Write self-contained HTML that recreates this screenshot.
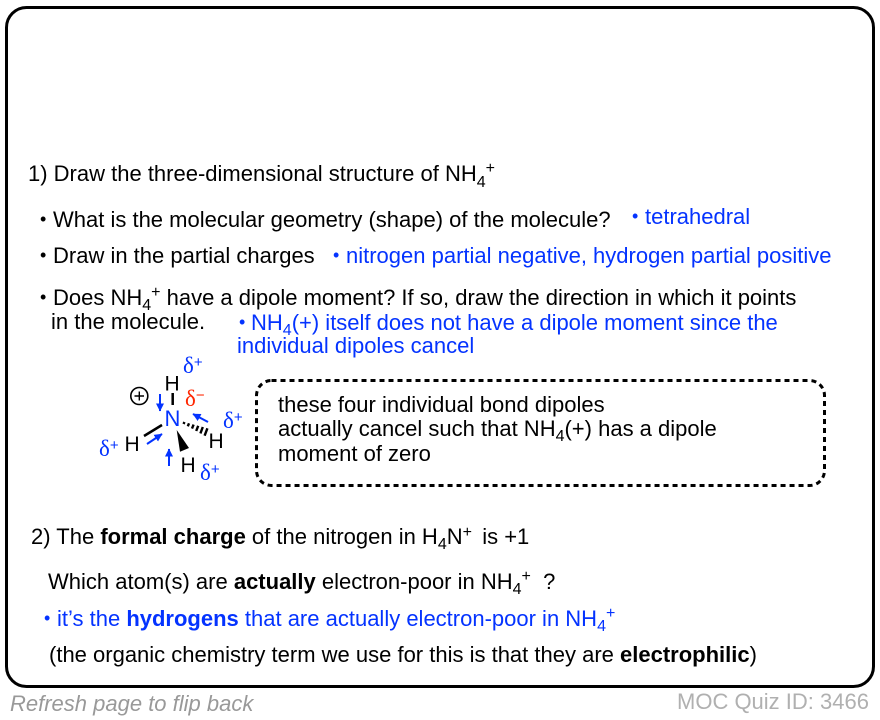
<!DOCTYPE html>
<html>
<head>
<meta charset="utf-8">
<style>
html,body{margin:0;padding:0;background:#fff;width:880px;height:720px;overflow:hidden}
svg{display:block}
text{font-family:"Liberation Sans",sans-serif;font-size:22px;fill:#000;white-space:pre}
.b{fill:#0433ff}
.s{font-size:16px}
.k{font-size:18px}
.d{font-family:"Liberation Serif",serif;font-size:23px;fill:#0433ff}
.p{font-family:"Liberation Sans",sans-serif;font-size:15px;fill:#0433ff}
.h{font-size:21px}
</style>
</head>
<body>
<svg width="880" height="720" viewBox="0 0 880 720" xmlns="http://www.w3.org/2000/svg">
<defs>
<marker id="ar" markerWidth="8" markerHeight="8" refX="7.5" refY="4" orient="auto" markerUnits="userSpaceOnUse"><path d="M0,0 L8,4 L0,8 Z" fill="#0433ff"/></marker>
</defs>
<rect x="6.5" y="7.5" width="867" height="679" rx="20" ry="20" fill="#fff" stroke="#000" stroke-width="3"/>

<text x="28" y="181">1) Draw the three-dimensional structure of NH<tspan class="s" dy="6">4</tspan><tspan class="s" dy="-14">+</tspan></text>

<text class="k" x="40" y="225">•</text>
<text x="53" y="227">What is the molecular geometry (shape) of the molecule?</text>
<text class="k b" x="632" y="222">•</text>
<text class="b" x="645" y="224">tetrahedral</text>

<text class="k" x="40" y="261">•</text>
<text x="53" y="263">Draw in the partial charges</text>
<text class="k b" x="333" y="261">•</text>
<text class="b" x="346" y="263">nitrogen partial negative, hydrogen partial positive</text>

<text class="k" x="40" y="303">•</text>
<text x="53" y="305">Does NH<tspan class="s" dy="5">4</tspan><tspan class="s" dy="-13">+</tspan><tspan dy="8"> have a dipole moment? If so, draw the direction in which it points</tspan></text>
<text x="51" y="329">in the molecule.</text>
<text class="k b" x="239" y="328">•</text>
<text class="b" x="251" y="330">NH<tspan class="s" dy="5">4</tspan><tspan dy="-5">(+) itself does not have a dipole moment since the</tspan></text>
<text class="b" x="237" y="353">individual dipoles cancel</text>

<rect x="256.5" y="380.5" width="568" height="105" rx="15" ry="15" fill="none" stroke="#000" stroke-width="3" stroke-dasharray="5 4"/>
<text x="278" y="412">these four individual bond dipoles</text>
<text x="278" y="436">actually cancel such that NH<tspan class="s" dy="5">4</tspan><tspan dy="-5">(+) has a dipole</tspan></text>
<text x="278" y="461">moment of zero</text>

<!-- molecule -->
<circle cx="139.3" cy="396" r="8.5" fill="none" stroke="#000" stroke-width="1.6"/>
<path d="M134.5,396H144M139.3,391.5V400.5" stroke="#000" stroke-width="1.4" fill="none"/>
<text class="h" x="164.5" y="390.5">H</text>
<text class="h" x="124.5" y="451">H</text>
<text class="h" x="208.5" y="448">H</text>
<text class="h" x="180.5" y="472">H</text>
<text class="b" x="164.5" y="426" style="font-size:22px">N</text>
<path d="M172.7,393V405M144,436L162,425" stroke="#000" stroke-width="2.5" fill="none"/>
<path d="M183.6,424L184.4,422M187.8,426.3L189,423.3M192,428.6L193.6,424.6M196.2,431L198.2,425.8M200.4,433.4L202.8,427M204.6,435.7L207.4,428.3" stroke="#000" stroke-width="2.4" fill="none"/>
<path d="M176.7,430L180,451.7L189,448Z" fill="#000"/>
<g stroke="#0433ff" stroke-width="2" fill="none">
<path d="M160,394V411" marker-end="url(#ar)"/>
<path d="M208,422L193,414" marker-end="url(#ar)"/>
<path d="M147,444L162,434" marker-end="url(#ar)"/>
<path d="M169,466V449" marker-end="url(#ar)"/>
</g>
<text class="d" x="183" y="373">δ<tspan class="p" dy="-6">+</tspan></text>
<text class="d" x="223" y="428">δ<tspan class="p" dy="-6">+</tspan></text>
<text class="d" x="99" y="456">δ<tspan class="p" dy="-6">+</tspan></text>
<text class="d" x="200" y="480">δ<tspan class="p" dy="-6">+</tspan></text>
<text class="d" x="185" y="406" style="fill:#ff2600">δ<tspan class="p" style="fill:#ff2600" dy="-6">−</tspan></text>

<text x="31" y="544">2) The <tspan font-weight="bold">formal charge</tspan> of the nitrogen in H<tspan class="s" dy="5">4</tspan><tspan dy="-5">N</tspan><tspan class="s" dy="-7">+</tspan><tspan dy="7" dx="-2">  is +1</tspan></text>
<text x="48" y="589">Which atom(s) are <tspan font-weight="bold">actually</tspan> electron-poor in NH<tspan class="s" dy="5">4</tspan><tspan class="s" dy="-13">+</tspan><tspan dy="8">  ?</tspan></text>
<text class="k b" x="44" y="624">•</text>
<text class="b" x="57" y="626">it’s the <tspan font-weight="bold">hydrogens</tspan> that are actually electron-poor in NH<tspan class="s" dy="5">4</tspan><tspan class="s" dy="-13">+</tspan></text>
<text x="49" y="662">(the organic chemistry term we use for this is that they are <tspan font-weight="bold">electrophilic</tspan>)</text>

<text x="10" y="711" style="fill:#999;font-style:italic">Refresh page to flip back</text>
<text x="677" y="709" style="fill:#b0b0b0">MOC Quiz ID: 3466</text>
</svg>
</body>
</html>
